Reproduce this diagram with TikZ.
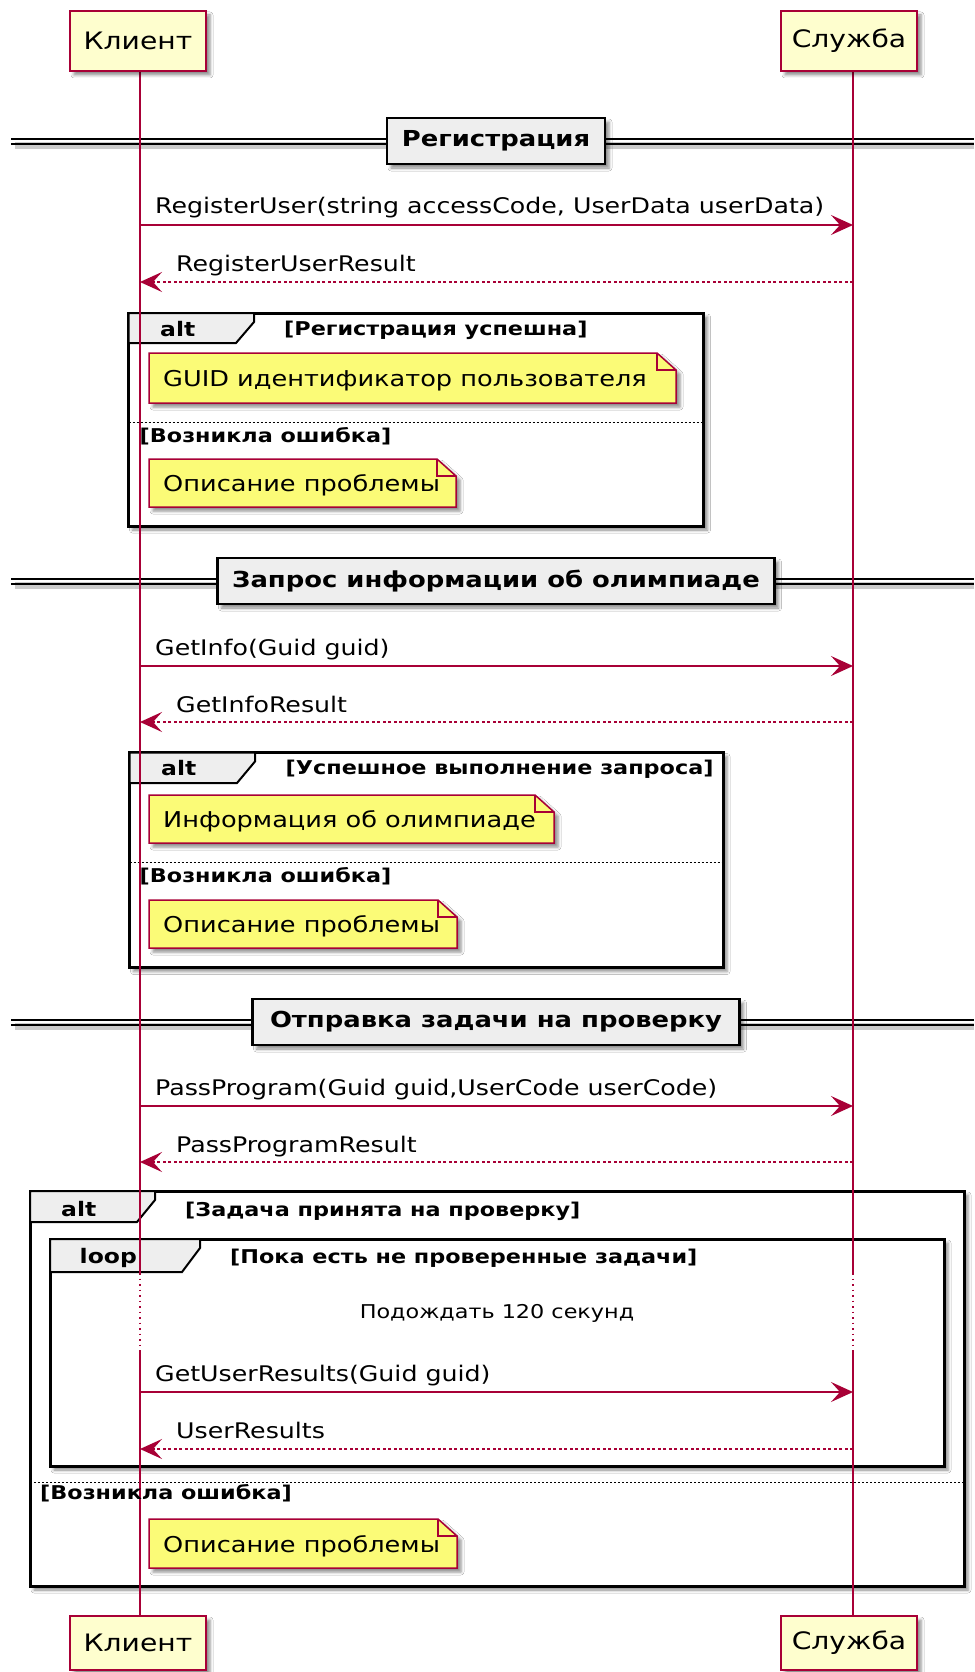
\documentclass[tikz,border=0pt]{standalone}
\usepackage{fontspec}
\setmainfont{DejaVu Sans}[FakeStretch=1.175]
\usetikzlibrary{arrows.meta,shadows.blur}
\definecolor{pcol}{HTML}{A80036}
\definecolor{partfill}{HTML}{FEFECE}
\definecolor{notefill}{HTML}{FBFB77}
\definecolor{grayfill}{HTML}{EEEEEE}
\newcommand\msgf{\fontsize{21.5pt}{25pt}\selectfont}
\newcommand\notef{\fontsize{21.8pt}{25pt}\selectfont}
\newcommand\partf{\fontsize{24pt}{28pt}\selectfont}
\newcommand\divf{\fontsize{22pt}{26pt}\selectfont\bfseries}
\newcommand\grpf{\fontsize{20pt}{24pt}\selectfont\bfseries}
\newcommand\condf{\fontsize{19pt}{22pt}\selectfont\bfseries}
\newcommand\delayf{\fontsize{19pt}{22pt}\selectfont}
\tikzset{
  shad/.style={blur shadow={shadow xshift=4pt,shadow yshift=-4pt,shadow blur radius=3pt,shadow opacity=45}},
  part/.style={draw=pcol,line width=1.5pt,fill=partfill,minimum width=136pt,minimum height=60pt,inner sep=0pt,font=\partf,shad},
  life/.style={draw=pcol,line width=1.2pt},
  delayline/.style={draw=pcol,line width=1.2pt,dash pattern=on 1.5pt off 4pt},
  msg/.style={draw=pcol,line width=1.5pt,-{Stealth[length=22pt,width=20pt,inset=9pt]}},
  ret/.style={msg,dash pattern=on 3pt off 2.5pt},
  msgtext/.style={anchor=base west,inner sep=0pt,font=\msgf},
  divbox/.style={draw=black,line width=2.5pt,fill=grayfill,minimum height=46pt,inner sep=0pt,font=\divf,shad},
  dline/.style={draw=black,line width=1.5pt},
  grpbox/.style={draw=black,line width=3pt,fill=white,shad},
  grptab/.style={draw=black,line width=2pt,fill=grayfill},
  grptext/.style={anchor=base west,inner sep=0pt,font=\grpf},
  condtext/.style={anchor=base west,inner sep=0pt,font=\condf},
  elseline/.style={draw=black,line width=1pt,dash pattern=on 2pt off 2pt},
  notebox/.style={draw=pcol,line width=1.5pt,fill=notefill,shad},
  notefold/.style={draw=pcol,line width=1.5pt},
  notetext/.style={anchor=base west,inner sep=0pt,font=\notef},
}
% divider: name, top, width, text
\newcommand\umldivider[4]{%
  \fill[black,opacity=.2] (15,#2+24) rectangle (974,#2+31);
  \draw[dline] (11,#2+21) -- (974,#2+21);
  \draw[dline] (11,#2+26) -- (974,#2+26);
  \node[divbox,minimum width=#3] (#1) at (496,#2+23) {#4};
}
% note: name, x1, y1, x2, y2, text
\newcommand\umlnote[6]{%
  \path[notebox] (#2,#3) -- (#4-19,#3) -- (#4,#3+17) -- (#4,#5) -- (#2,#5) -- cycle;
  \draw[notefold] (#4-19,#3) -- (#4-19,#3+17) -- (#4,#3+17);
  \node[notetext] (#1) at ({#2+14},{(#3+#5)/2+8.5}) {#6};
}
% group tab: x1, top, x2 (tab right), bottom
\newcommand\umltab[4]{%
  \draw[grptab] (#1,#2) -- (#3,#2) -- (#3,#2+9) -- (#3-18,#4) -- (#1,#4) -- cycle;
}
\begin{document}
\begin{tikzpicture}[x=1pt,y=-1pt]
\useasboundingbox (0,0) rectangle (974,1672);
\fill[white] (0,0) rectangle (974,1672);

% ---- divider double lines and boxes
\umldivider{d1}{118}{218pt}{Регистрация}
\umldivider{d2}{558}{557pt}{Запрос информации об олимпиаде}
\umldivider{d3}{999}{487pt}{Отправка задачи на проверку}

% ---- group frames
% alt 1
\draw[grpbox] (128.5,313) rectangle (703.5,526);
\umltab{128.5}{313}{254}{343}
\draw[elseline] (128.5,422) -- (703.5,422);
% alt 2
\draw[grpbox] (129.5,752.5) rectangle (723,967.5);
\umltab{129.5}{752.5}{255}{783}
\draw[elseline] (129.5,862) -- (723,862);
% alt 3 with loop
\draw[grpbox] (30,1191) rectangle (964,1586);
\umltab{30}{1191}{155}{1222}
\draw[elseline] (30,1482) -- (964,1482);
\draw[grpbox] (50,1239) rectangle (944,1466);
\umltab{50}{1239}{200}{1272}

% ---- lifelines
\coordinate (kt) at (140,71);   \coordinate (st) at (853,71);
\coordinate (kd1) at (140,1273); \coordinate (sd1) at (853,1273);
\coordinate (kd2) at (140,1350); \coordinate (sd2) at (853,1350);
\coordinate (kb) at (140,1616); \coordinate (sb) at (853,1616);
\draw[life] (kt) -- (kd1);
\draw[delayline] (kd1) -- (kd2);
\draw[life] (kd2) -- (kb);
\draw[life] (st) -- (sd1);
\draw[delayline] (sd1) -- (sd2);
\draw[life] (sd2) -- (sb);

% ---- participants
\node[part] (kTop) at (138,41) {Клиент};
\node[part] (sTop) at (849,41) {Служба};
\node[part,minimum height=54pt] (kBot) at (138,1643) {Клиент};
\node[part,minimum height=54pt] (sBot) at (849,1643) {Служба};

% ---- messages
\coordinate (k1) at (140,225);  \coordinate (s1) at (853,225);
\coordinate (k2) at (140,282);  \coordinate (s2) at (853,282);
\coordinate (k3) at (140,666);  \coordinate (s3) at (853,666);
\coordinate (k4) at (140,722);  \coordinate (s4) at (853,722);
\coordinate (k5) at (140,1106); \coordinate (s5) at (853,1106);
\coordinate (k6) at (140,1162); \coordinate (s6) at (853,1162);
\coordinate (k7) at (140,1392); \coordinate (s7) at (853,1392);
\coordinate (k8) at (140,1449); \coordinate (s8) at (853,1449);
\draw[msg] (k1) -- (s1);
\draw[ret] (s2) -- (k2);
\draw[msg] (k3) -- (s3);
\draw[ret] (s4) -- (k4);
\draw[msg] (k5) -- (s5);
\draw[ret] (s6) -- (k6);
\draw[msg] (k7) -- (s7);
\draw[ret] (s8) -- (k8);
\node[msgtext] (m1) at (155,213) {RegisterUser(string accessCode, UserData userData)};
\node[msgtext] (m2) at (176,271) {RegisterUserResult};
\node[msgtext] (m3) at (155,655) {GetInfo(Guid guid)};
\node[msgtext] (m4) at (176,712) {GetInfoResult};
\node[msgtext] (m5) at (155,1095) {PassProgram(Guid guid,UserCode userCode)};
\node[msgtext] (m6) at (176,1152) {PassProgramResult};
\node[msgtext] (m7) at (155,1381) {GetUserResults(Guid guid)};
\node[msgtext] (m8) at (176,1438) {UserResults};

% ---- group labels
\node[grptext] (g1) at (160,336) {alt};
\node[condtext] (c1) at (284,335) {[Регистрация успешна]};
\node[condtext] (e1) at (139.5,442) {[Возникла ошибка]};
\node[grptext] (g2) at (161,775.5) {alt};
\node[condtext] (c2) at (285.5,774.5) {[Успешное выполнение запроса]};
\node[condtext] (e2) at (139.5,882) {[Возникла ошибка]};
\node[grptext] (g3) at (61,1216.5) {alt};
\node[condtext] (c3) at (185,1216) {[Задача принята на проверку]};
\node[grptext] (g4) at (79.5,1263) {loop};
\node[condtext] (c4) at (230,1263) {[Пока есть не проверенные задачи]};
\node[condtext] (e3) at (40,1499) {[Возникла ошибка]};
\node[anchor=base,inner sep=0pt,font=\delayf] (dl) at (497,1318) {Подождать 120 секунд};

% ---- notes
\umlnote{n1}{149}{353}{676}{403}{GUID идентификатор пользователя}
\umlnote{n2}{149}{459}{456}{507}{Описание проблемы}
\umlnote{n3}{149}{795}{554}{843}{Информация об олимпиаде}
\umlnote{n4}{149}{900}{457}{948}{Описание проблемы}
\umlnote{n5}{149}{1519}{457}{1568}{Описание проблемы}
\end{tikzpicture}
\end{document}
